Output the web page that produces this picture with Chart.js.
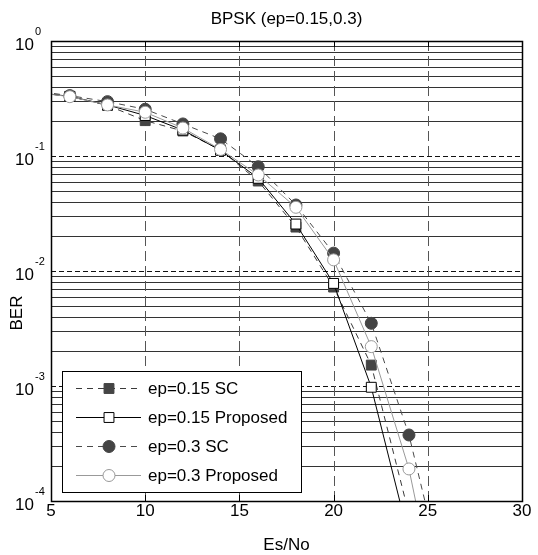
<!DOCTYPE html>
<html lang="en">
<head>
<meta charset="UTF-8">
<title>BPSK (ep=0.15,0.3)</title>
<script src="https://cdn.jsdelivr.net/npm/chart.js"></script>
<style>
body { margin: 0; padding: 0; background: #fff; }
#wrap { width: 538px; height: 555px; }
</style>
</head>
<body>
<div id="wrap"><canvas id="berChart" width="538" height="555"></canvas></div>
<script>
// Es/No points (4 and 26 only show as line ends leaving the plot)
const snr = [4, 6, 8, 10, 12, 14, 16, 18, 20, 22, 24, 26];
const berSC15   = [0.36, 0.33, 0.275, 0.203, 0.165, 0.113, 0.0606, 0.0241, 0.00725, 0.00152, 0.000077, null];
const berProp15 = [0.36, 0.33, 0.278, 0.225, 0.168, 0.112, 0.064, 0.0256, 0.0078, 0.000975, 0.000048, null];
const berSC3    = [0.37, 0.335, 0.297, 0.255, 0.19, 0.141, 0.0807, 0.0375, 0.0143, 0.00351, 0.000375, 0.0000165];
const berProp3  = [0.36, 0.328, 0.278, 0.24, 0.175, 0.114, 0.0684, 0.0358, 0.0125, 0.0022, 0.00019, 0.000005];

const xTicks = [5, 10, 15, 20, 25, 30];
const yDecades = [-4, -3, -2, -1, 0];
const legendNames = ['ep=0.15 SC', 'ep=0.15 Proposed', 'ep=0.3 SC', 'ep=0.3 Proposed'];

const FONT = '"Liberation Sans", Arial, Helvetica, sans-serif';

function pts(vals) {
  return snr.map((x, i) => ({ x: x, y: vals[i] }));
}

const series = [
  { label: legendNames[0], data: pts(berSC15), line: '#3a3a3a', dash: [6, 5], style: 'rect', fill: '#444', edge: '#444', r: 7, order: 4 },
  { label: legendNames[1], data: pts(berProp15), line: '#000', dash: [], style: 'rect', fill: '#fff', edge: '#000', r: 7, order: 3 },
  { label: legendNames[2], data: pts(berSC3), line: '#4a4a4a', dash: [6, 5], style: 'circle', fill: '#444', edge: '#444', r: 6, order: 2 },
  { label: legendNames[3], data: pts(berProp3), line: '#999', dash: [], style: 'circle', fill: '#fff', edge: '#999', r: 6, order: 1 }
];

const datasets = series.map(s => ({
  label: s.label,
  data: s.data,
  borderColor: s.line,
  borderWidth: 1,
  borderDash: s.dash,
  pointStyle: s.style,
  pointRadius: s.r,
  pointBackgroundColor: s.fill,
  pointBorderColor: s.edge,
  pointBorderWidth: 1,
  tension: 0,
  spanGaps: false,
  clip: 0,
  order: s.order
}));

function marker(ctx, s, x, y) {
  ctx.save();
  ctx.setLineDash([]);
  ctx.fillStyle = s.fill;
  ctx.strokeStyle = s.edge;
  ctx.lineWidth = 1;
  ctx.beginPath();
  if (s.style === 'rect') {
    const h = s.r * Math.SQRT1_2;
    ctx.rect(x - h, y - h, 2 * h, 2 * h);
  } else {
    ctx.arc(x, y, s.r, 0, Math.PI * 2);
  }
  ctx.fill();
  ctx.stroke();
  ctx.restore();
}

const matlabAxes = {
  id: 'matlabAxes',
  beforeDatasetsDraw(chart) {
    const ctx = chart.ctx;
    const a = chart.chartArea;
    const xs = chart.scales.x, ys = chart.scales.y;
    ctx.save();
    ctx.lineWidth = 1;
    // minor horizontal grid (solid)
    ctx.strokeStyle = '#333';
    ctx.setLineDash([]);
    yDecades.forEach(d => {
      if (d === 0) return;
      for (let m = 2; m <= 9; m++) {
        const py = Math.round(ys.getPixelForValue(m * Math.pow(10, d))) + 0.5;
        ctx.beginPath(); ctx.moveTo(a.left, py); ctx.lineTo(a.right, py); ctx.stroke();
      }
    });
    // decade lines (dashed)
    ctx.strokeStyle = '#111';
    ctx.setLineDash([5, 3]);
    yDecades.forEach(d => {
      const py = Math.round(ys.getPixelForValue(Math.pow(10, d))) + 0.5;
      ctx.beginPath(); ctx.moveTo(a.left, py); ctx.lineTo(a.right, py); ctx.stroke();
    });
    // vertical grid (dashed)
    ctx.strokeStyle = '#555';
    ctx.setLineDash([10, 5]);
    xTicks.forEach(t => {
      const px = Math.round(xs.getPixelForValue(t)) + 0.5;
      ctx.beginPath(); ctx.moveTo(px, a.bottom); ctx.lineTo(px, a.top); ctx.stroke();
    });
    ctx.restore();
  },
  afterDatasetsDraw(chart) {
    const ctx = chart.ctx;
    const a = chart.chartArea;
    const xs = chart.scales.x, ys = chart.scales.y;
    ctx.save();
    ctx.setLineDash([]);
    ctx.strokeStyle = '#000';
    ctx.lineWidth = 1;
    // inner tick marks
    xTicks.forEach(t => {
      const px = Math.round(xs.getPixelForValue(t)) + 0.5;
      ctx.beginPath();
      ctx.moveTo(px, a.bottom); ctx.lineTo(px, a.bottom - 6);
      ctx.moveTo(px, a.top); ctx.lineTo(px, a.top + 6);
      ctx.stroke();
    });
    // axes box
    ctx.lineWidth = 1.5;
    ctx.strokeRect(Math.round(a.left) + 0.5, Math.round(a.top) + 0.5, Math.round(a.right - a.left), Math.round(a.bottom - a.top));

    // y tick labels 10^n
    ctx.fillStyle = '#000';
    ctx.textBaseline = 'middle';
    yDecades.forEach(d => {
      const py = ys.getPixelForValue(Math.pow(10, d));
      ctx.font = '17px ' + FONT;
      ctx.textAlign = 'right';
      ctx.fillText('10', 34, py + 4);
      ctx.font = '11px ' + FONT;
      ctx.textAlign = 'left';
      ctx.fillText(String(d), 35, py - 9);
    });

    // title and axis labels
    const cx = (a.left + a.right) / 2;
    ctx.font = '17px ' + FONT;
    ctx.textAlign = 'center';
    ctx.fillText('BPSK (ep=0.15,0.3)', cx, 19);
    ctx.fillText('Es/No', cx, 545);
    ctx.save();
    ctx.translate(17, 313);
    ctx.rotate(-Math.PI / 2);
    ctx.fillText('BER', 0, 0);
    ctx.restore();

    // legend box
    const lx = 62, ly = 371, lw = 239, lh = 121;
    ctx.fillStyle = '#fff';
    ctx.fillRect(lx, ly, lw, lh);
    ctx.lineWidth = 1;
    ctx.strokeStyle = '#000';
    ctx.strokeRect(lx + 0.5, ly + 0.5, lw, lh);
    series.forEach((s, i) => {
      const y = 388 + i * 29;
      ctx.save();
      ctx.strokeStyle = s.line;
      ctx.lineWidth = 1;
      ctx.setLineDash(s.dash);
      ctx.beginPath(); ctx.moveTo(76, y + 0.5); ctx.lineTo(141, y + 0.5); ctx.stroke();
      ctx.restore();
      marker(ctx, s, 109, y + 0.5);
      ctx.fillStyle = '#000';
      ctx.font = '17px ' + FONT;
      ctx.textAlign = 'left';
      ctx.textBaseline = 'middle';
      ctx.fillText(s.label, 148, y + 1);
    });
    ctx.restore();
  }
};

const ctx = document.getElementById('berChart').getContext('2d');
const berChart = new Chart(ctx, {
  type: 'line',
  data: { datasets: datasets },
  options: {
    responsive: false,
    devicePixelRatio: 1,
    animation: false,
    layout: { padding: { top: 41, right: 16, left: 0, bottom: 0 } },
    plugins: {
      legend: { display: false },
      title: { display: false },
      tooltip: { enabled: false }
    },
    scales: {
      x: {
        type: 'linear',
        min: 5,
        max: 30,
        ticks: { stepSize: 5, color: '#000', padding: 0, font: { family: FONT, size: 17 } },
        grid: { display: false, drawTicks: false },
        border: { display: false },
        afterFit(s) { s.height = 54; }
      },
      y: {
        type: 'logarithmic',
        min: 1e-4,
        max: 1,
        ticks: { display: false },
        grid: { display: false, drawTicks: false },
        border: { display: false },
        afterFit(s) { s.width = 51; }
      }
    }
  },
  plugins: [matlabAxes]
});
</script>
</body>
</html>
